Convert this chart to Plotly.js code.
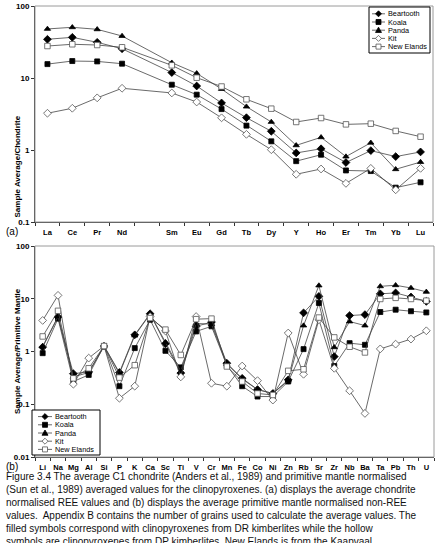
<!DOCTYPE html>
<html>
<head>
<meta charset="utf-8">
<script src="https://cdn.plot.ly/plotly-3.0.1.min.js"></script>
<style>html,body{margin:0;padding:0;background:#fff;}#chart{width:438px;height:543px;}</style>
</head>
<body>
<div id="chart"></div>
<script>
// ---------- DATA ----------
const reeCategories = ['La','Ce','Pr','Nd',' ','Sm','Eu','Gd','Tb','Dy','Y','Ho','Er','Tm','Yb','Lu'];
const reeBeartooth = [34.5, 36.7, 31.3, 25.5, null, 11.9, 7.74, 4.5, 2.81, 1.82, 0.91, 1.04, 0.67, 0.98, 0.81, 0.94];
const reeKoala     = [15.6, 17.2, 17.0, 15.8, null, 8.07, 5.87, 3.7, 2.18, 1.32, 0.70, 0.86, 0.52, 0.51, 0.30, 0.356];
const reePanda     = [48.0, 50.6, 47.4, 38.3, null, 16.3, 11.6, 7.03, 4.0, 2.45, 1.16, 1.5, 0.81, 1.26, 0.54, 0.68];
const reeKit       = [3.24, 3.8, 5.3, 7.2, null, 6.2, 4.64, 2.8, 1.65, 1.01, 0.46, 0.545, 0.344, 0.556, 0.28, 0.556];
const reeNewElands = [27.8, 29.4, 28.7, 26.7, null, 15.0, 10.1, 7.62, 5.06, 3.75, 2.45, 2.78, 2.27, 2.32, 1.84, 1.53];

const pmCategories = ['Li','Na','Mg','Al','Si','P','K','Ca','Sc','Ti','V','Cr','Mn','Fe','Co','Ni','Zn','Rb','Sr','Zr','Nb','Ba','Ta','Pb','Th','U'];
const pmBeartooth = [1.21, 4.5, 0.38, 0.41, 1.27, 0.40, 2.07, 5.2, 1.40, 0.39, 3.0, 3.6, 0.60, 0.31, 0.19, 0.16, 0.29, 5.4, 11.1, 0.80, 4.8, 5.0, 12.4, 12.9, 10.8, 8.9];
const pmKoala     = [0.93, 4.2, 0.27, 0.36, 1.27, 0.22, 1.16, 4.0, 1.03, 0.50, 2.4, 3.0, 0.55, 0.22, 0.14, 0.14, 0.27, 1.11, 8.3, 0.53, 1.44, 1.34, 5.6, 6.2, 5.8, 5.5];
const pmPanda     = [1.25, 4.6, 0.33, 0.40, 1.27, 0.38, 2.0, 5.1, 1.5, 0.42, 3.4, 3.3, 0.58, 0.30, 0.19, 0.16, 0.28, 3.1, 17.8, 1.2, 3.7, 3.1, 17.2, 18.0, 16.0, 13.5];
const pmKit       = [3.88, 11.6, 0.24, 0.75, 1.27, 0.13, 0.22, 4.6, 2.45, 0.33, 4.6, 0.25, 0.22, 0.53, 0.28, 0.12, 2.24, 0.37, 4.0, 0.48, 0.18, 0.067, 1.12, 1.38, 1.72, 2.47];
const pmNewElands = [1.93, 5.9, 0.31, 0.48, 1.27, 0.32, 0.55, 4.3, 2.6, 0.86, 4.1, 4.2, 0.52, 0.27, 0.16, 0.15, 0.43, 0.46, 4.4, 1.85, 1.23, 0.96, 9.9, 10.4, 9.9, 9.2];

const seriesNames = ['Beartooth','Koala','Panda','Kit','New Elands'];
const reeTickLabels = ['0.1','1','10','100'];
const pmTickLabels = ['0.01','0.1','1','10','100'];

const captionLines = [
  'Figure 3.4 The average C1 chondrite (Anders et al., 1989) and primitive mantle normalised',
  '(Sun et al., 1989) averaged values for the clinopyroxenes. (a) displays the average chondrite',
  'normalised REE values and (b) displays the average primitive mantle normalised non-REE',
  'values.  Appendix B contains the number of grains used to calculate the average values. The',
  'filled symbols correspond with clinopyroxenes from DR kimberlites while the hollow',
  'symbols are clinopyroxenes from DP kimberlites. New Elands is from the Kaapvaal'
];

// ---------- STYLE ----------
const W = 438, H = 543;
const px = x => x / W;
const py = y => 1 - y / H;
const FONT = 'Liberation Sans, Arial, sans-serif';

const styles = {
  'Beartooth':  {symbol: 'diamond', size: 6, fill: '#000', line: '#000'},
  'Koala':      {symbol: 'square', size: 5, fill: '#000', line: '#000'},
  'Panda':      {symbol: 'triangle-up', size: 5.5, fill: '#000', line: '#000'},
  'Kit':        {symbol: 'diamond', size: 6, fill: '#fff', line: '#555'},
  'New Elands': {symbol: 'square', size: 5.5, fill: '#fff', line: '#555'}
};

const reeData = [reeBeartooth, reeKoala, reePanda, reeKit, reeNewElands];
const pmData = [pmBeartooth, pmKoala, pmPanda, pmKit, pmNewElands];

function trace(name, x, y, xa, ya) {
  const s = styles[name];
  return {
    type: 'scatter', mode: 'lines+markers', name: name, x: x, y: y,
    xaxis: xa, yaxis: ya, connectgaps: true, showlegend: false,
    line: {color: '#444', width: 0.8},
    marker: {symbol: s.symbol, size: s.size, color: s.fill, line: {color: s.line, width: 0.8}},
    cliponaxis: false
  };
}

const traces = [];
seriesNames.forEach((n, i) => traces.push(trace(n, reeCategories, reeData[i], 'x', 'y')));
seriesNames.forEach((n, i) => traces.push(trace(n, pmCategories, pmData[i], 'x2', 'y2')));

// ---------- LAYOUT ----------
const shapes = [];
const annotations = [];

function border(x0, y0, x1, y1) {
  shapes.push({type: 'rect', xref: 'paper', yref: 'paper', x0: px(x0), x1: px(x1), y0: py(y1), y1: py(y0),
    line: {color: '#9a9a9a', width: 1}, fillcolor: 'rgba(0,0,0,0)', layer: 'above'});
}
border(35, 6, 433, 222);
border(35, 246, 434, 457);

function legendBox(x0, y0, x1, y1, rowY0, dy, lx0, lx1, tx) {
  shapes.push({type: 'rect', xref: 'paper', yref: 'paper', x0: px(x0), x1: px(x1), y0: py(y1), y1: py(y0),
    line: {color: '#000', width: 1}, fillcolor: '#fff', layer: 'above'});
  seriesNames.forEach((n, i) => {
    const s = styles[n];
    const y = rowY0 + i * dy;
    const mx = (lx0 + lx1) / 2;
    shapes.push({type: 'line', xref: 'paper', yref: 'paper', x0: px(lx0), x1: px(lx1), y0: py(y), y1: py(y),
      line: {color: '#444', width: 0.8}, layer: 'above'});
    let pts;
    if (s.symbol === 'diamond') { const r = 3.0; pts = [[mx, y - r], [mx + r, y], [mx, y + r], [mx - r, y]]; }
    else if (s.symbol === 'square') { const r = 2.5; pts = [[mx - r, y - r], [mx + r, y - r], [mx + r, y + r], [mx - r, y + r]]; }
    else { const r = 3.0; pts = [[mx, y - r], [mx + r, y + r * 0.75], [mx - r, y + r * 0.75]]; }
    const path = 'M' + pts.map(p => px(p[0]).toFixed(5) + ',' + py(p[1]).toFixed(5)).join(' L') + ' Z';
    shapes.push({type: 'path', xref: 'paper', yref: 'paper', path: path, fillcolor: s.fill,
      line: {color: s.line, width: 0.8}, layer: 'above'});
    annotations.push({xref: 'paper', yref: 'paper', x: px(tx), y: py(y), xanchor: 'left', yanchor: 'middle',
      showarrow: false, borderpad: 0, text: n, font: {family: FONT, size: 7.3, color: '#000'}});
  });
}
legendBox(369, 7, 430, 53, 13.8, 8.2, 372, 385, 387);
legendBox(32, 410, 100, 455, 416.6, 8.2, 38, 52, 54);

annotations.push({xref: 'paper', yref: 'paper', x: px(10), y: py(114), textangle: -90, showarrow: false,
  text: 'Sample Average/Chondrite', font: {family: FONT, size: 8, color: '#000', weight: 'bold'}});
annotations.push({xref: 'paper', yref: 'paper', x: px(10.5), y: py(351), textangle: -90, showarrow: false,
  text: 'Sample Average/Primitive Mantle', font: {family: FONT, size: 8, color: '#000', weight: 'bold'}});
annotations.push({xref: 'paper', yref: 'paper', x: px(4), y: py(231), xanchor: 'left', yanchor: 'middle', showarrow: false,
  text: '(a)', font: {family: FONT, size: 10, color: '#000'}});
annotations.push({xref: 'paper', yref: 'paper', x: px(4), y: py(466), xanchor: 'left', yanchor: 'middle', showarrow: false,
  text: '(b)', font: {family: FONT, size: 10, color: '#000'}});
annotations.push({xref: 'paper', yref: 'paper', x: px(4), y: py(469), xanchor: 'left', yanchor: 'top', showarrow: false,
  align: 'left', text: captionLines.join('<br>'), font: {family: FONT, size: 10, color: '#111'}});

const xBase = {
  type: 'category', categoryorder: 'array', showline: true, linecolor: '#333', linewidth: 1,
  ticks: 'outside', tickson: 'boundaries', ticklen: 3, tickcolor: '#333', tickwidth: 1,
  showgrid: false, zeroline: false, fixedrange: true, ticklabelstandoff: 3, tickangle: 0,
  tickfont: {family: FONT, size: 7.5, color: '#000', weight: 'bold'}
};
const yBase = {
  type: 'log', showline: true, linecolor: '#333', linewidth: 1, ticks: 'outside', ticklen: 3,
  tickcolor: '#333', showgrid: false, zeroline: false, fixedrange: true, tickmode: 'array',
  tickfont: {family: FONT, size: 8, color: '#000', weight: 'bold'}
};

const layout = {
  width: W, height: H, margin: {l: 0, r: 0, t: 0, b: 0},
  paper_bgcolor: '#fff', plot_bgcolor: 'rgba(0,0,0,0)', showlegend: false,
  xaxis: Object.assign({}, xBase, {domain: [px(35), px(433)], anchor: 'y', categoryarray: reeCategories,
    range: [-0.5, reeCategories.length - 0.5]}),
  yaxis: Object.assign({}, yBase, {domain: [py(222), py(6)], anchor: 'x', range: [-1, 2],
    tickvals: [0.1, 1, 10, 100], ticktext: reeTickLabels}),
  xaxis2: Object.assign({}, xBase, {domain: [px(35), px(434)], anchor: 'y2', categoryarray: pmCategories,
    range: [-0.5, pmCategories.length - 0.5]}),
  yaxis2: Object.assign({}, yBase, {domain: [py(457), py(246)], anchor: 'x2', range: [-2, 2],
    tickvals: [0.01, 0.1, 1, 10, 100], ticktext: pmTickLabels}),
  shapes: shapes, annotations: annotations
};

Plotly.newPlot('chart', traces, layout, {displayModeBar: false, staticPlot: true});
</script>
</body>
</html>
